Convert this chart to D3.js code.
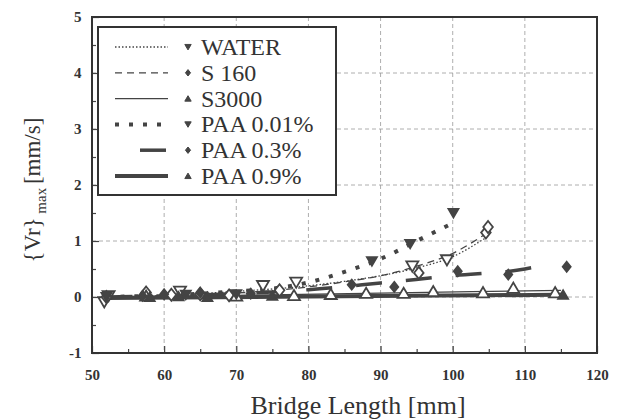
<!DOCTYPE html>
<html><head><meta charset="utf-8">
<script src="https://cdn.jsdelivr.net/npm/d3@7"></script>
<style>body{margin:0;background:#fff}svg{display:block}</style>
</head><body>
<svg id="c" width="621" height="420"></svg>
<script>
const xTicks = [50,60,70,80,90,100,110,120];
const yTicks = [-1,0,1,2,3,4,5];
const seriesNames = ["WATER","S 160","S3000","PAA 0.01%","PAA 0.3%","PAA 0.9%"];

// markers [mm, mm/s]
const waterPts = [[51.7,-0.09],[52.3,0.02],[62.2,0.1],[73.7,0.2],[78.3,0.26],[94.4,0.55],[99.2,0.66]];
const s160Pts = [[52,0.0],[57.5,0.08],[61,0.04],[65,0.05],[69,0.03],[76,0.12],[95.3,0.43],[104.6,1.15],[104.9,1.25]];
const s3000Pts = [[57.5,0.02],[70,0.02],[78,0.03],[83.1,0.05],[88,0.07],[93.2,0.07],[97.3,0.1],[104.2,0.08],[108.4,0.16],[114.2,0.08]];
const paa001Pts = [[52,0.0],[63,0.04],[70,0.05],[88.8,0.64],[94.1,0.95],[100.1,1.5]];
const paa03Pts = [[57,0.02],[60,0.05],[65,0.08],[72,0.06],[86,0.22],[91.9,0.18],[100.7,0.46],[107.7,0.4],[115.8,0.54]];
const paa09Pts = [[58,0.0],[62,0.01],[66,0.0],[75,0.02],[115.3,0.04]];

// fitted curves [mm, mm/s]
const waterFit = [[52,0],[60,0.03],[70,0.1],[80,0.2],[85,0.28],[90,0.38],[95,0.52],[100,0.72],[104.5,1.05]];
const s160Fit = [[52,0],[60,0.02],[70,0.07],[80,0.18],[85,0.27],[90,0.38],[95,0.55],[100,0.78],[104.5,1.12]];
const s3000Fit = [[52,0],[70,0.03],[90,0.07],[115,0.12]];
const paa001Fit = [[52,0],[60,0.03],[70,0.1],[75,0.15],[80,0.26],[85,0.45],[90,0.68],[95,1.0],[100,1.32]];
const paa03Fit = [[52,0],[60,0.02],[70,0.06],[80,0.13],[90,0.25],[100,0.38],[110,0.5],[112,0.55]];
const paa09Fit = [[52,-0.02],[80,0.01],[115.5,0.04]];

const col = "#444";
const svg = d3.select("#c");
const L=92,R=597,T=17,B=353;
const x = d3.scaleLinear().domain([50,120]).range([L,R]);
const y = d3.scaleLinear().domain([-1,5]).range([B,T]);
const serif = "Liberation Serif";

// grid
const g = svg.append("g");
g.selectAll(".gx").data(xTicks.slice(1,-1)).join("line")
 .attr("x1",d=>x(d)).attr("x2",d=>x(d)).attr("y1",T).attr("y2",B)
 .attr("stroke","#999").attr("stroke-width",0.8).attr("stroke-dasharray","4,3");
g.selectAll(".gy").data(yTicks.slice(1,-1)).join("line")
 .attr("y1",d=>y(d)).attr("y2",d=>y(d)).attr("x1",L).attr("x2",R)
 .attr("stroke","#999").attr("stroke-width",0.8).attr("stroke-dasharray","4,3");

// axes with inward ticks
const xMinor = d3.range(55,120,10);
const yMinor = d3.range(-0.5,5,1);
const fmt = d=>String(d);
const axB = d3.axisBottom(x).tickValues(xTicks).tickSize(-7).tickFormat(fmt);
const axL = d3.axisLeft(y).tickValues(yTicks).tickSize(-7).tickFormat(fmt);
const gb = svg.append("g").attr("transform",`translate(0,${B})`).call(axB);
const gl = svg.append("g").attr("transform",`translate(${L},0)`).call(axL);
svg.append("g").attr("transform",`translate(0,${B})`).call(d3.axisBottom(x).tickValues(xMinor).tickSize(-4).tickFormat(""));
svg.append("g").attr("transform",`translate(${L},0)`).call(d3.axisLeft(y).tickValues(yMinor).tickSize(-4).tickFormat(""));
svg.selectAll(".domain").remove();
svg.selectAll(".tick line").attr("stroke",col).attr("stroke-width",1.2);
gb.selectAll("text").style("font-family",serif).style("font-weight","bold").style("font-size","15px").attr("fill","#333").attr("dy","1.6em");
gl.selectAll("text").style("font-family",serif).style("font-weight","bold").style("font-size","15px").attr("fill","#333").attr("dx","-0.5em");

// frame
svg.append("rect").attr("x",L).attr("y",T).attr("width",R-L).attr("height",B-T)
 .attr("fill","none").attr("stroke","#333").attr("stroke-width",2);

// lines
const line = d3.line().x(d=>x(d[0])).y(d=>y(d[1])).curve(d3.curveMonotoneX);
const styles = [
 {fit:waterFit, pts:waterPts, w:1.3, dash:"1.5,2", sym:"dn", fill:false},
 {fit:s160Fit, pts:s160Pts, w:1.3, dash:"7,5", sym:"dia", fill:false},
 {fit:s3000Fit, pts:s3000Pts, w:1.3, dash:null, sym:"up", fill:false},
 {fit:paa001Fit, pts:paa001Pts, w:4, dash:"4,10", sym:"dn", fill:true},
 {fit:paa03Fit, pts:paa03Pts, w:3.5, dash:"26,24", sym:"dia", fill:true},
 {fit:paa09Fit, pts:paa09Pts, w:4, dash:null, sym:"up", fill:true}
];
function symPath(sym,s){
  if(sym==="dn") return `M${-s},${-s*0.8}L${s},${-s*0.8}L0,${s*0.9}Z`;
  if(sym==="up") return `M${-s},${s*0.8}L${s},${s*0.8}L0,${-s*0.9}Z`;
  return `M0,${-s}L${s*0.8},0L0,${s}L${-s*0.8},0Z`;
}
styles.forEach(st=>{
  svg.append("path").datum(st.fit).attr("d",line).attr("fill","none")
   .attr("stroke",col).attr("stroke-width",st.w).attr("stroke-dasharray",st.dash);
});
styles.forEach(st=>{
  svg.append("g").selectAll("path").data(st.pts).join("path")
   .attr("transform",d=>`translate(${x(d[0])},${y(d[1])})`)
   .attr("d",symPath(st.sym, st.fill?5:6))
   .attr("fill",st.fill?col:"#fff").attr("stroke",col).attr("stroke-width",1.8);
});

// legend
const lg = svg.append("g");
lg.append("rect").attr("x",98).attr("y",27).attr("width",238).attr("height",168)
  .attr("fill","#fff").attr("stroke","#333").attr("stroke-width",2);
const rowY = d3.scalePoint().domain(seriesNames).range([47,176]);
seriesNames.forEach((n,i)=>{
  const st = styles[i], yy=rowY(n);
  const x1 = i===4?140:115;
  lg.append("line").attr("x1",x1).attr("x2",168).attr("y1",yy).attr("y2",yy)
    .attr("stroke",col).attr("stroke-width",st.w).attr("stroke-dasharray",st.dash);
  lg.append("path").attr("transform",`translate(188,${yy})`).attr("d",symPath(st.sym,3.2))
    .attr("fill",col).attr("stroke",col).attr("stroke-width",1);
  lg.append("text").attr("x",201).attr("y",yy+8).text(n)
    .style("font-family",serif).style("font-size","24px").attr("fill","#333");
});

// axis titles
svg.append("text").attr("x",358).attr("y",414).attr("text-anchor","middle")
  .style("font-family",serif).style("font-size","26px").attr("fill","#333").text("Bridge Length [mm]");
const yt = svg.append("text").attr("transform","translate(40,190) rotate(-90)").attr("text-anchor","middle")
  .style("font-family",serif).style("font-size","23px").attr("fill","#333");
yt.append("tspan").text("{Vr}");
yt.append("tspan").style("font-size","15px").attr("dy",6).text(" max ");
yt.append("tspan").attr("dy",-6).text("[mm/s]");
</script>
</body></html>
